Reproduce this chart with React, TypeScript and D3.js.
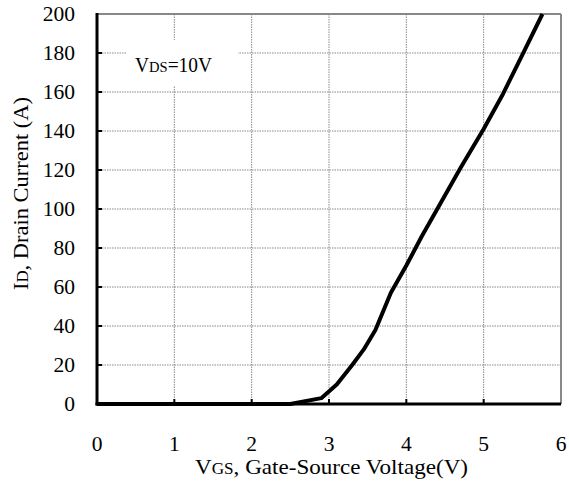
import React from 'react';
import * as d3 from 'd3';

// Transfer characteristics, VDS = 10V
const vgs = [0, 1, 2, 2.5, 2.9, 3.1, 3.3, 3.45, 3.6, 3.8, 4.0, 4.2, 4.4, 4.7, 5.0, 5.25, 5.5, 5.76];
const id = [0, 0, 0, 0, 3, 10, 20, 28, 38, 57, 71, 86, 100, 121, 141, 159, 179, 200];

const xTicks = [0, 1, 2, 3, 4, 5, 6];
const yTicks = [0, 20, 40, 60, 80, 100, 120, 140, 160, 180, 200];

const W = 569;
const H = 482;
const m = { left: 97, right: 8, top: 14, bottom: 78 };
const font = "'Liberation Serif'";

export default function App() {
  const x = d3.scaleLinear().domain([0, 6]).range([m.left, W - m.right]);
  const y = d3.scaleLinear().domain([0, 200]).range([H - m.bottom, m.top]);

  const pts = vgs.map((v, i) => [v, id[i]] as [number, number]);
  const line = d3
    .line<[number, number]>()
    .x((d) => x(d[0]))
    .y((d) => y(d[1]))
    .curve(d3.curveLinear);

  const x0 = x(0);
  const x1 = x(6);
  const y0 = y(0);
  const y1 = y(200);
  const ts = { fontFamily: font };

  return (
    <svg
      width={W}
      height={H}
      style={{ position: 'absolute', left: 0, top: 0, background: '#fff' }}
    >
      {/* grid */}
      {yTicks.slice(1, -1).map((t) => (
        <line key={'gy' + t} x1={x0} x2={x1} y1={y(t)} y2={y(t)} stroke="#888" strokeWidth={1} strokeDasharray="1.5,1" />
      ))}
      {xTicks.slice(1, -1).map((t) => (
        <line key={'gx' + t} x1={x(t)} x2={x(t)} y1={y1} y2={y0} stroke="#888" strokeWidth={1} strokeDasharray="1.5,1" />
      ))}

      {/* annotation box */}
      <rect x={127} y={40} width={111} height={46} fill="#fff" />
      <text x={135} y={72} fontSize={20} fill="#000" style={ts} textLength={77} lengthAdjust="spacingAndGlyphs">
        V<tspan fontSize={15}>DS</tspan>=10V
      </text>

      {/* frame */}
      <line x1={x0} x2={x1} y1={y1} y2={y1} stroke="#888" strokeWidth={2} />
      <line x1={x1} x2={x1} y1={y1} y2={y0} stroke="#888" strokeWidth={2} />

      {/* ticks */}
      {xTicks.slice(1, -1).map((t) => (
        <line key={'tx' + t} x1={x(t)} x2={x(t)} y1={y0} y2={y0 - 5} stroke="#000" strokeWidth={2} />
      ))}
      {yTicks.slice(1, -1).map((t) => (
        <line key={'ty' + t} x1={x0} x2={x0 + 5} y1={y(t)} y2={y(t)} stroke="#000" strokeWidth={2} />
      ))}

      {/* data */}
      <path d={line(pts) || ''} fill="none" stroke="#000" strokeWidth={4} strokeLinejoin="round" />

      {/* axes */}
      <line x1={x0} x2={x0} y1={y1 - 1} y2={y0 + 1.5} stroke="#000" strokeWidth={3} />
      <line x1={x0 - 1.5} x2={x1} y1={y0} y2={y0} stroke="#000" strokeWidth={3} />

      {/* tick labels */}
      {yTicks.map((t) => (
        <text key={'ly' + t} x={75} y={y(t) + 7} textAnchor="end" fontSize={21.5} fill="#000" style={ts}>
          {t}
        </text>
      ))}
      {xTicks.map((t) => (
        <text key={'lx' + t} x={x(t)} y={451} textAnchor="middle" fontSize={21.5} fill="#000" style={ts}>
          {t}
        </text>
      ))}

      {/* axis titles */}
      <text x={195} y={474} fontSize={21.5} fill="#000" style={ts} textLength={273} lengthAdjust="spacingAndGlyphs">
        V<tspan fontSize={16}>GS</tspan>, Gate-Source Voltage(V)
      </text>
      <text
        transform={`translate(28, 290) rotate(-90)`}
        fontSize={21.5}
        fill="#000"
        style={ts}
        textLength={193}
        lengthAdjust="spacingAndGlyphs"
      >
        I<tspan fontSize={16}>D</tspan>, Drain Current (A)
      </text>
    </svg>
  );
}
